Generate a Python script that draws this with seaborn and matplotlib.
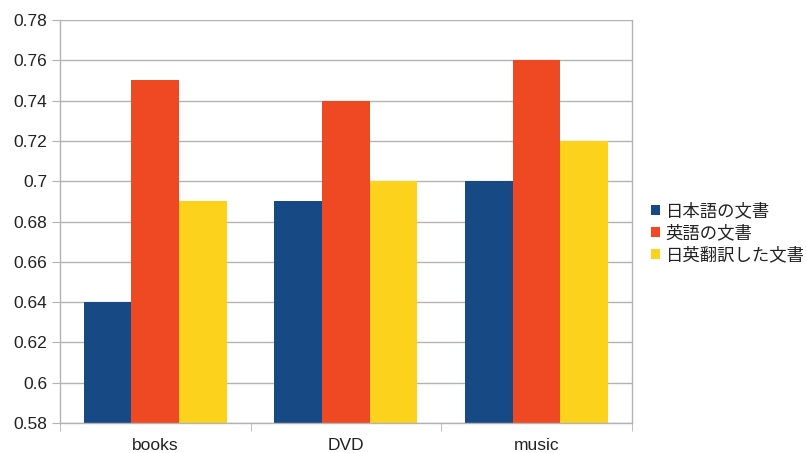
import matplotlib
matplotlib.use('Agg')
import matplotlib.pyplot as plt
import pandas as pd
import seaborn as sns
from matplotlib.patches import Patch

categories = ['books', 'DVD', 'music']
series_names = ['日本語の文書', '英語の文書', '日英翻訳した文書']
jp_docs = [0.64, 0.69, 0.70]
en_docs = [0.75, 0.74, 0.76]
trans_docs = [0.69, 0.70, 0.72]
colors = ['#174a85', '#ef4923', '#fdd21c']
yticks = [0.58, 0.6, 0.62, 0.64, 0.66, 0.68, 0.7, 0.72, 0.74, 0.76, 0.78]

rows = []
for name, vals in zip(series_names, [jp_docs, en_docs, trans_docs]):
    for cat, v in zip(categories, vals):
        rows.append({'category': cat, 'series': name, 'value': v})
df = pd.DataFrame(rows)

sns.set_style('white')
plt.rcParams['font.family'] = ['Liberation Sans', 'Noto Sans CJK JP', 'DejaVu Sans']

fig = plt.figure(figsize=(8.06, 4.53), dpi=100)
ax = fig.add_axes([0.0744, 0.0662, 0.7097, 0.8896])

sns.barplot(data=df, x='category', y='value', hue='series', order=categories,
            hue_order=series_names, palette=colors, width=0.75, gap=0,
            saturation=1, ax=ax, legend=False, linewidth=0)

ax.set_ylim(0.58, 0.78)
ax.set_xlim(-0.5, 2.5)
ax.set_yticks(yticks)
ax.set_yticklabels([f'{t:g}' for t in yticks])
ax.yaxis.grid(True, color='#b3b3b3', linewidth=1)
ax.set_axisbelow(True)
ax.set_xlabel('')
ax.set_ylabel('')
for s in ax.spines.values():
    s.set_color('#b3b3b3')
    s.set_linewidth(1)
ax.spines['top'].set_visible(False)

ax.set_xticks([-0.5, 0.5, 1.5, 2.5], minor=True)
ax.tick_params(axis='x', which='major', length=0, pad=11, labelsize=12.5, labelcolor='#222222')
ax.tick_params(axis='x', which='minor', length=6, color='#b3b3b3', bottom=True)
ax.tick_params(axis='y', length=6, color='#b3b3b3', left=True, labelsize=12.5,
               labelcolor='#222222', pad=3)

handles = [Patch(facecolor=c, edgecolor='none') for c in colors]
leg = fig.legend(handles, series_names, loc='center left', bbox_to_anchor=(0.788, 0.486),
                 frameon=False, fontsize=12.5, handlelength=0.55, handleheight=0.55,
                 handletextpad=0.3, labelspacing=0.3)
for t in leg.get_texts():
    t.set_color('#222222')

fig.savefig('out.png', dpi=100)
